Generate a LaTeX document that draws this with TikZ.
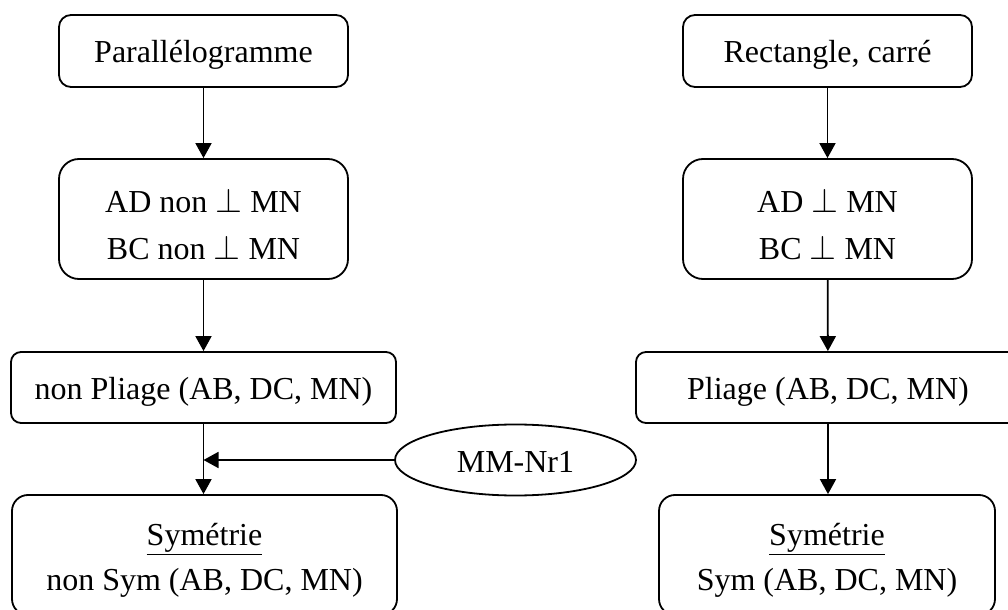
\documentclass[tikz,border=0pt]{standalone}
\usepackage{fontspec}
\setmainfont{Liberation Serif}
\usepackage{tikz}
\usetikzlibrary{arrows.meta,positioning,calc,shapes.geometric}

\begin{document}
\begin{tikzpicture}[x=0.5pt, y=-0.5pt, >={Triangle[length=7.5pt,width=8pt]},
  font=\fontsize{16}{24}\selectfont,
  box/.style={draw, line width=0.9pt, rounded corners=#1, inner sep=0pt, align=center},
  box/.default=6pt,
  oneline/.style={text height=12pt, text depth=0pt},
  twoline/.style={text height=#1, text depth=0pt},
  twoline/.default=41pt,
  link/.style={->, line width=0.9pt}]
  \useasboundingbox (0,0) rectangle (1008,610);

  % Left column
  \node[box, oneline, minimum width=144.5pt, minimum height=36pt] (para) at (203.5,51) {Parallélogramme};
  \node[box=10pt, twoline, minimum width=144.5pt, minimum height=60pt] (perpl) at (203.5,219) {AD non $\perp$ MN\\BC non $\perp$ MN};
  \node[box=5pt, oneline, minimum width=192.5pt, minimum height=35.5pt] (npli) at (203.5,387.5) {non Pliage (AB, DC, MN)};
  \node[box=8pt, twoline=35pt, minimum width=192.5pt, minimum height=60pt] (nsym) at (204.5,555) {\underline{Symétrie}\\[-1.5pt]non Sym (AB, DC, MN)};

  % Right column
  \node[box, oneline, minimum width=144.5pt, minimum height=36pt] (rect) at (827.5,51) {Rectangle, carré};
  \node[box=10pt, twoline, minimum width=144.5pt, minimum height=60pt] (perpr) at (827.5,219) {AD $\perp$ MN\\BC $\perp$ MN};
  \node[box=5pt, oneline, minimum width=192pt, minimum height=35.5pt] (pli) at (828,387.5) {Pliage (AB, DC, MN)};
  \node[box=8pt, twoline=35pt, minimum width=168pt, minimum height=60pt] (sym) at (827,555) {\underline{Symétrie}\\[-1.5pt]Sym (AB, DC, MN)};

  % Mental model
  \node[draw, ellipse, oneline, line width=0.9pt, inner sep=0pt, minimum width=120.5pt, minimum height=35.5pt] (mm) at (515.5,460) {MM-Nr1};

  % Arrows
  \draw[link] (para) -- (perpl);
  \draw[link] (perpl) -- (npli);
  \draw[link] (npli) -- (npli |- nsym.north);
  \draw[link] (mm.west) -- (mm.west -| npli.south);
  \draw[link] (rect) -- (perpr);
  \draw[link] (perpr) -- (pli);
  \draw[link] (pli) -- (pli |- sym.north);
\end{tikzpicture}
\end{document}
